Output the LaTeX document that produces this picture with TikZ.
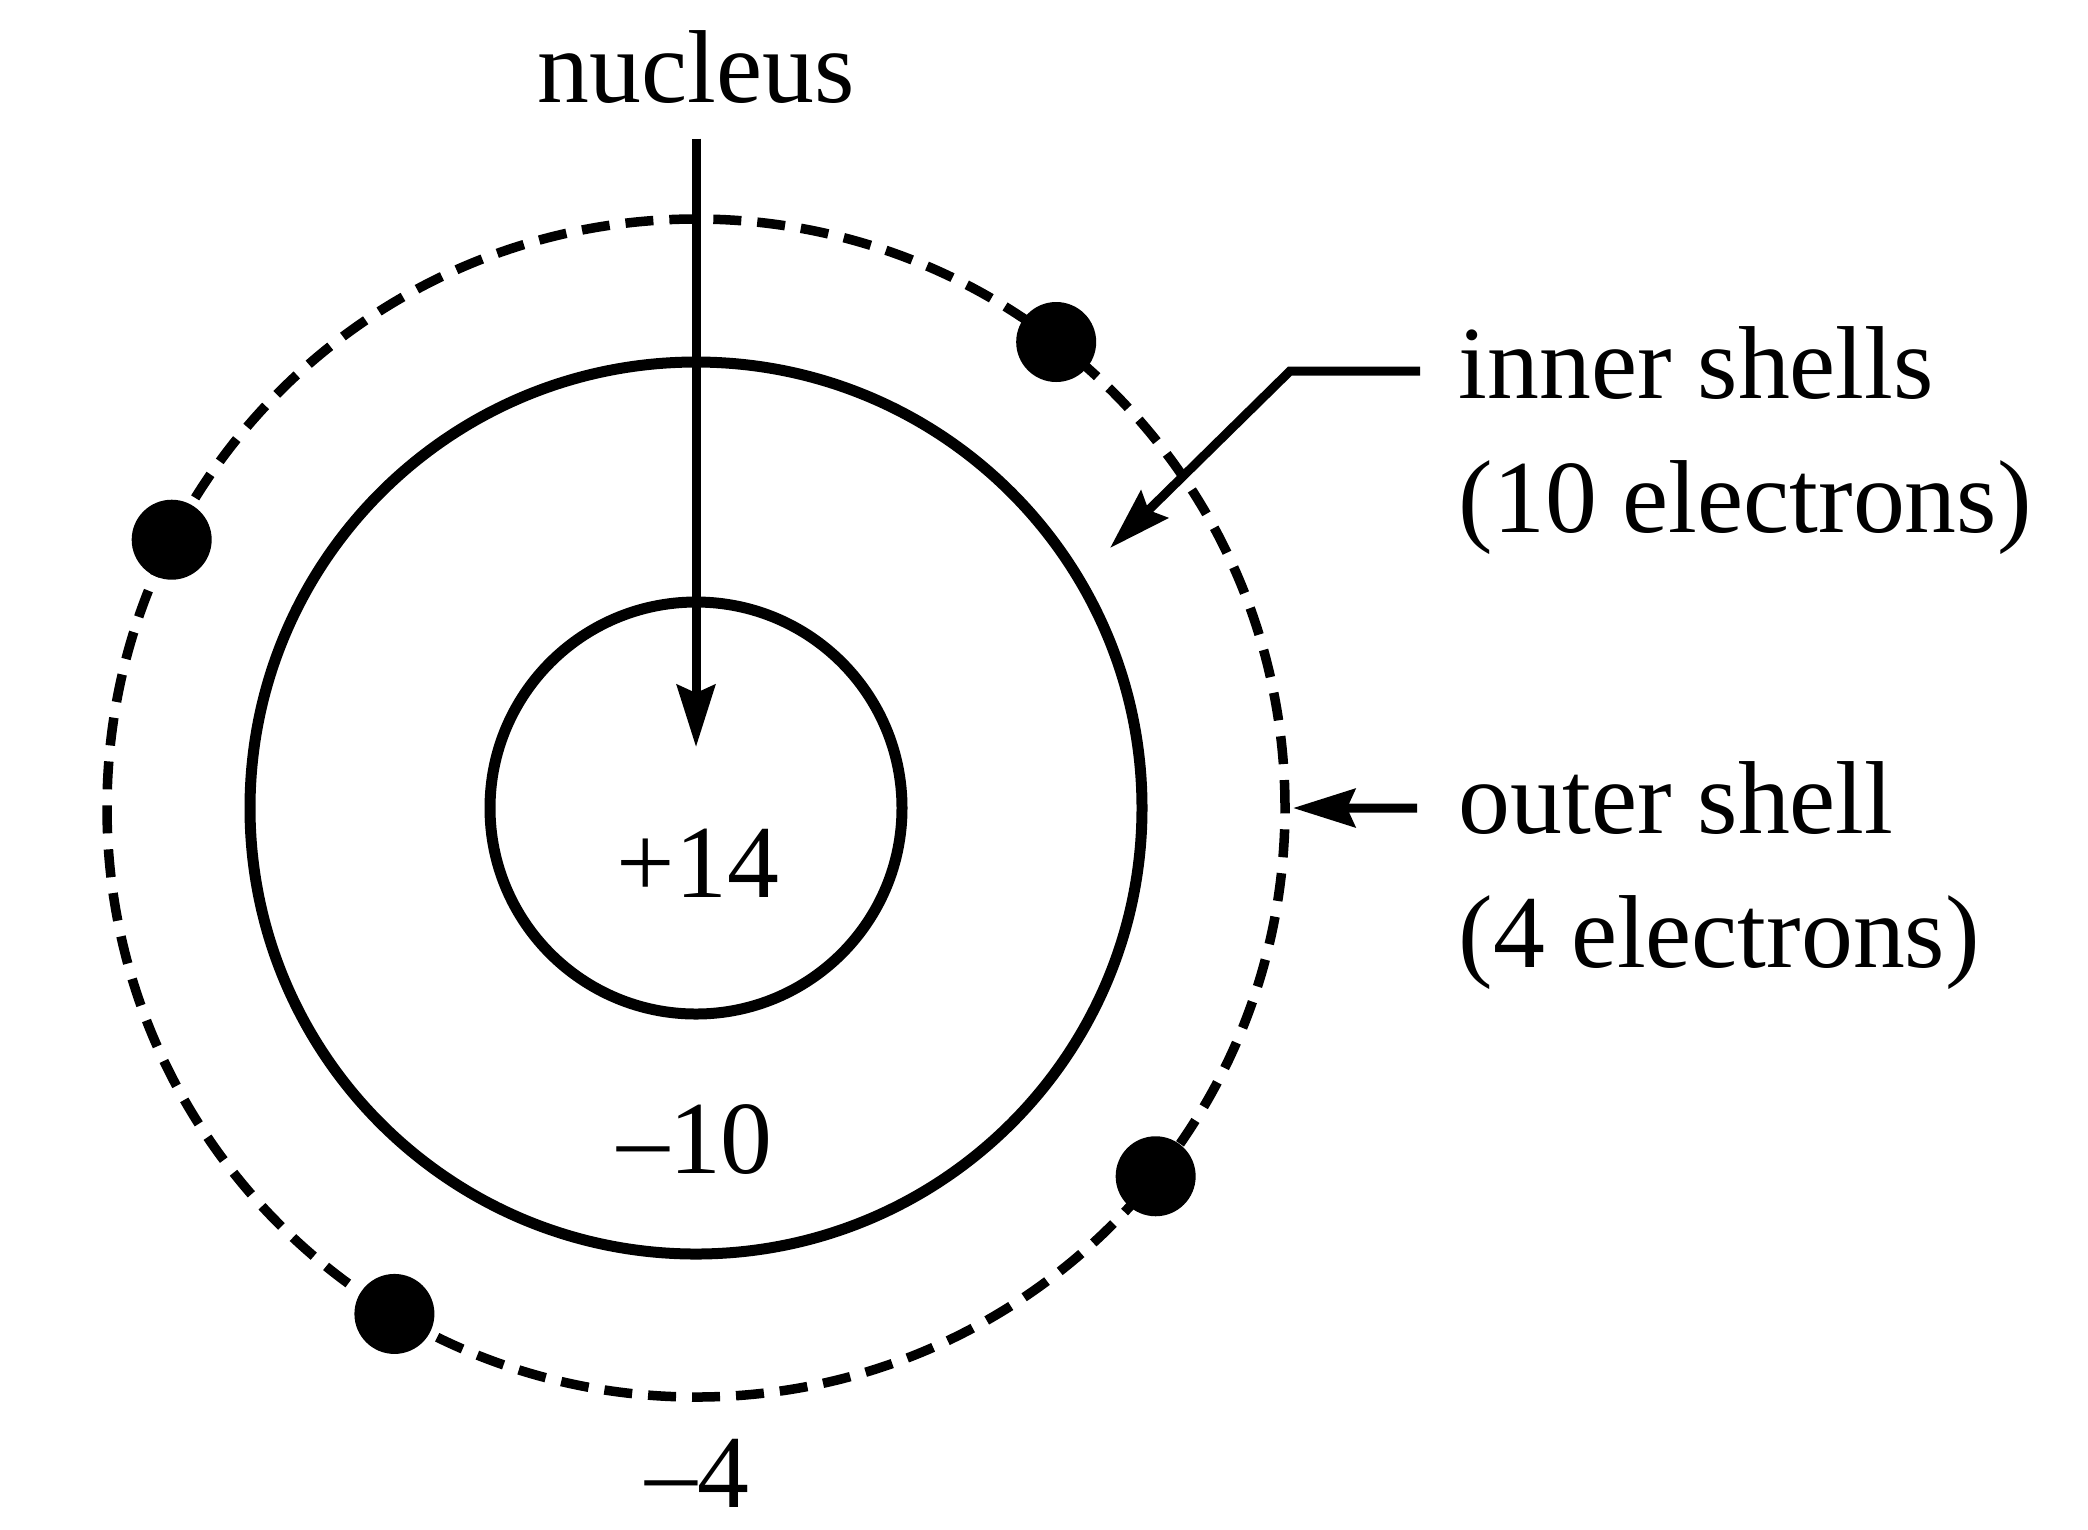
\documentclass[tikz,border=0pt]{standalone}
\usepackage{fontspec}
\setmainfont{Liberation Serif}
\usetikzlibrary{
  arrows.meta,
  positioning,
  calc
}
\tikzset{
  shellring/.style={draw, line width=0.11cm},
  outerring/.style={draw, line width=0.095cm, dash pattern=on 0.28cm off 0.16cm},
  electron/.style={circle, fill=black, inner sep=0pt, minimum size=0.8cm},
  arr/.style={-{Stealth[length=0.62cm, width=0.38cm, inset=0.08cm]}, line width=0.09cm},
  lbl/.style={font=\fontsize{29.5}{38}\selectfont, inner sep=0pt, align=left},
  chargelbl/.style={font=\fontsize{29.5}{38}\selectfont, inner sep=0pt, anchor=base},
}

\begin{document}
\begin{tikzpicture}
  \useasboundingbox (0,0) rectangle (20.88,-15.29);
  \coordinate (C) at (6.96,-8.08);

  % shells
  \draw[outerring] (C) circle[radius=5.89];
  \draw[shellring] (C) circle[radius=4.46];
  \draw[shellring] (C) circle[radius=2.06];

  % outer electrons
  \foreach \ang [count=\i] in {52.3,152.9,-38.7,-120.8} {
    \node[electron] (e\i) at ($(C)+(\ang:5.89)$) {};
  }

  % charges
  \node[chargelbl] (core) at (6.98,-8.97) {+14};
  \node[chargelbl] (inq) at (6.95,-11.73) {--10};
  \node[chargelbl] (outq) at (6.97,-15.07) {--4};

  % labels (base = last line)
  \node[lbl, anchor=base, inner sep=0.35cm] (nuc) at (6.96,-1.02) {nucleus};
  \node[lbl, anchor=base west] (inner) at (14.58,-5.32) {inner shells\\(10 electrons)};
  \node[lbl, anchor=base west] (outer) at (14.58,-9.67) {outer shell\\(4 electrons)};

  \coordinate (nuctip) at (6.96,-7.47);
  \coordinate (innerknee) at (12.90,-3.71);
  \coordinate (innertip) at (11.10,-5.48);
  \coordinate (outertip) at (12.93,-8.08);

  \draw[arr] (nuc) -- (nuctip);
  \draw[arr] ([shift={(-0.38,1.61)}]inner.base west) -- (innerknee) -- (innertip);
  \draw[arr] ([shift={(-0.41,1.59)}]outer.base west) -- (outertip);
\end{tikzpicture}
\end{document}
